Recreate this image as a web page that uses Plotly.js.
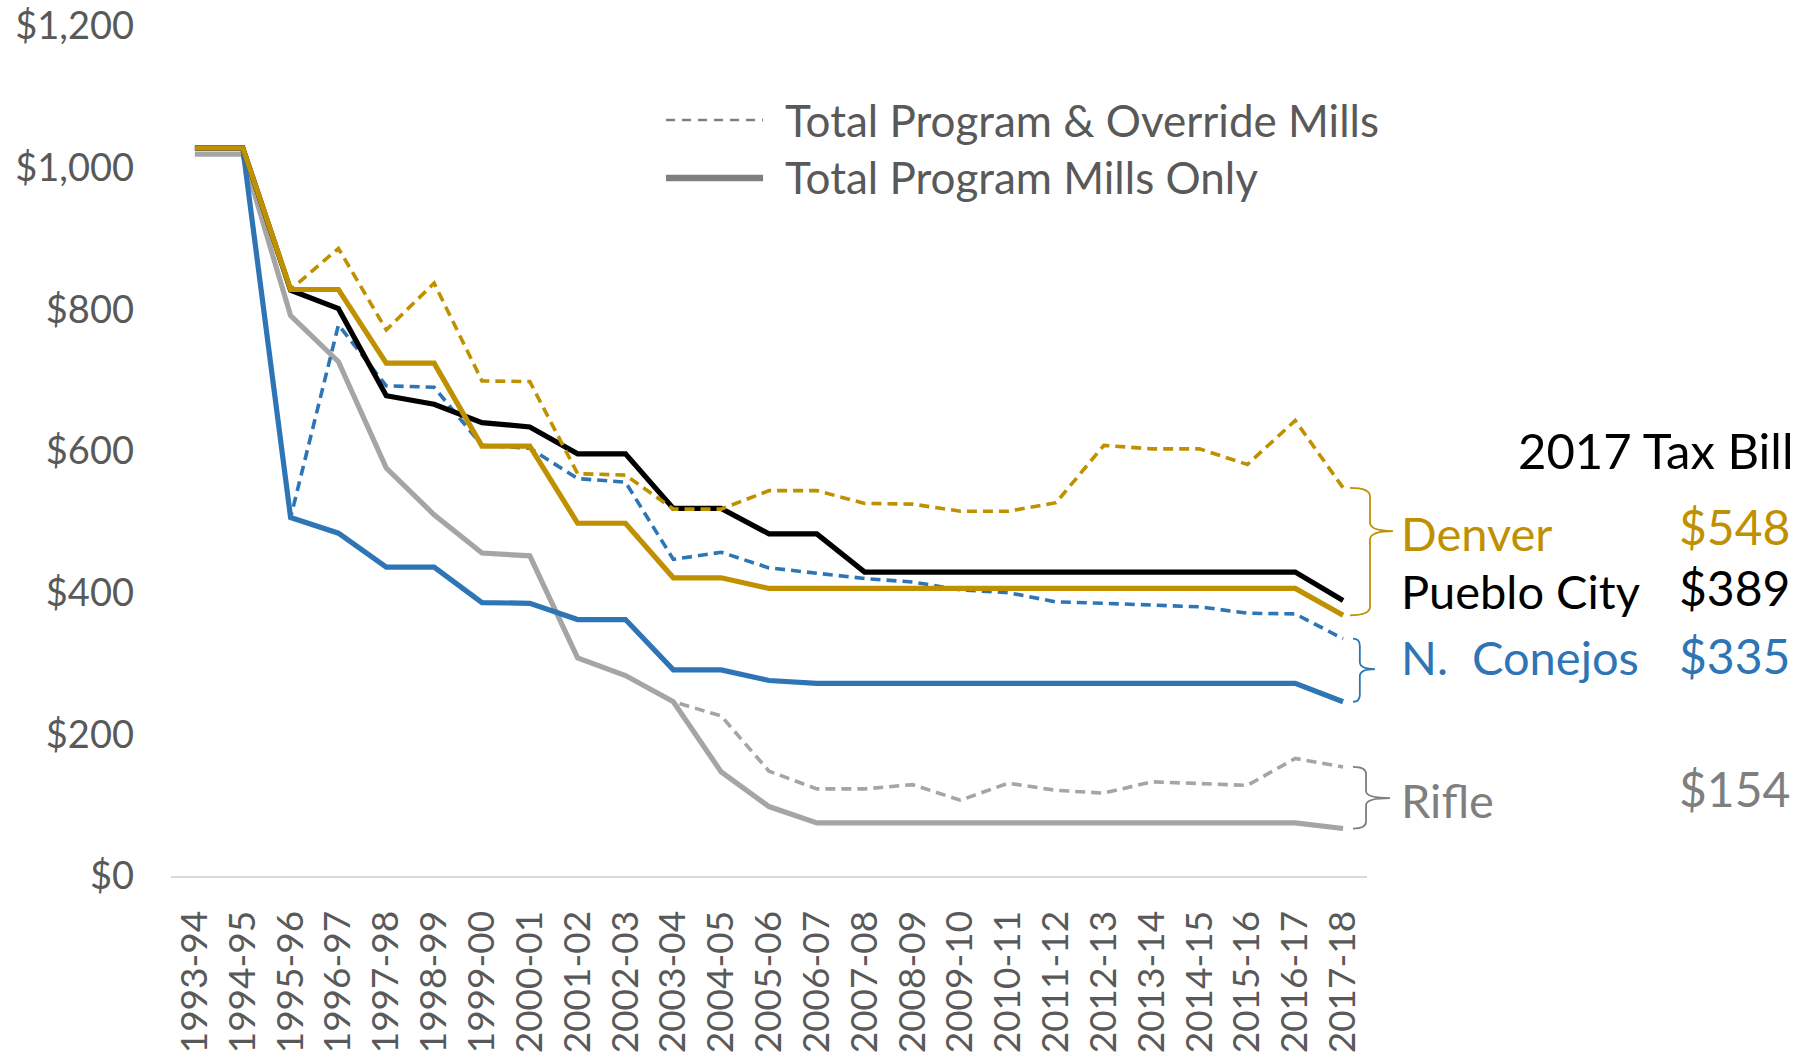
<!DOCTYPE html>
<html>
<head>
<meta charset="utf-8">
<script src="https://cdn.plot.ly/plotly-3.0.1.min.js"></script>
<style>html,body{margin:0;padding:0;background:#fff;}#chart{width:1817px;height:1057px;}</style>
</head>
<body>
<div id="chart"></div>
<script>
// ---- Data ----
const categories = ['1993-94','1994-95','1995-96','1996-97','1997-98','1998-99','1999-00','2000-01',
  '2001-02','2002-03','2003-04','2004-05','2005-06','2006-07','2007-08','2008-09','2009-10',
  '2010-11','2011-12','2012-13','2013-14','2014-15','2015-16','2016-17','2017-18'];

const denverProgram  = [1028,1028,828,828,724,724,607,607,498,498,421,421,406,406,406,406,406,406,406,406,406,406,406,406,368];
const denverTotal    = [1028,1028,828,886,771,837,699,698,568,566,518,518,544,544,526,525,515,515,527,608,603,603,581,643,548];
const puebloProgram  = [1028,1028,827,801,678,666,640,634,596,596,519,519,483,483,429,429,429,429,429,429,429,429,429,429,389];
const conejosProgram = [1028,1028,506,484,436,436,386,385,362,362,291,291,276,272,272,272,272,272,272,272,272,272,272,272,246];
const conejosTotal   = [1028,1028,506,778,692,690,608,604,561,556,447,457,435,428,420,415,404,400,387,385,382,380,371,370,335];
const rifleProgram   = [1019,1019,791,726,576,510,456,452,308,283,246,147,98,75,75,75,75,75,75,75,75,75,75,75,67];
const rifleTotal     = [1019,1019,791,726,576,510,456,452,308,283,246,226,148,123,123,129,107,131,121,117,133,131,128,166,154];

const districts = ['Denver','Pueblo City','N.\u00a0 Conejos','Rifle'];
const taxBill2017 = [denverTotal[24], puebloProgram[24], conejosTotal[24], rifleTotal[24]];
const legendLabels = ['Total Program & Override Mills','Total Program Mills Only'];
const yTicks = [0,200,400,600,800,1000,1200];
const yTickText = yTicks.map(v => '$' + v.toLocaleString('en-US'));

// ---- Styles ----
const GOLD = '#BF9000', BLUE = '#2E75B6', GRAY = '#A5A5A5', DARKGRAY = '#7F7F7F', BLACK = '#000000';
const FONT = 'Lato, "Open Sans", sans-serif';
const SOLID_W = 5.2, DASH_W = 3.6, DASH = '10px,6px';

function tr(y, color, dashed) {
  return {x: categories, y: y, type: 'scatter', mode: 'lines', hoverinfo: 'skip', showlegend: false,
    line: {color: color, width: dashed ? DASH_W : SOLID_W, dash: dashed ? DASH : 'solid'}};
}

const data = [
  tr(rifleTotal, GRAY, true),
  tr(rifleProgram, GRAY, false),
  tr(conejosProgram, BLUE, false),
  tr(conejosTotal, BLUE, true),
  tr(puebloProgram, BLACK, false),
  tr(denverProgram, GOLD, false),
  tr(denverTotal, GOLD, true)
];

// curly brace path: x in paper units, y in data units
function brace(xTip, xBar, xNib, yTop, yNib, yBot, r, color) {
  const p = 'M' + xTip + ',' + yTop +
    ' Q' + xBar + ',' + yTop + ' ' + xBar + ',' + (yTop - r) +
    ' L' + xBar + ',' + (yNib + r) +
    ' Q' + xBar + ',' + yNib + ' ' + xNib + ',' + yNib +
    ' Q' + xBar + ',' + yNib + ' ' + xBar + ',' + (yNib - r) +
    ' L' + xBar + ',' + (yBot + r) +
    ' Q' + xBar + ',' + yBot + ' ' + xTip + ',' + yBot;
  return {type: 'path', xref: 'paper', yref: 'y', path: p, line: {color: color, width: 1.8}};
}

const shapes = [
  brace(0.9858, 1.0025, 1.0217, denverTotal[24], 487, denverProgram[24], 12, GOLD),
  brace(0.9883, 0.9940, 1.0067, conejosTotal[24], 292, conejosProgram[24], 10, BLUE),
  brace(0.9883, 0.9992, 1.0192, rifleTotal[24], 110, rifleProgram[24], 10, DARKGRAY),
  // legend samples
  {type: 'line', xref: 'paper', yref: 'paper', x0: 0.4139, x1: 0.4950, y0: 0.8894, y1: 0.8894,
   line: {color: DARKGRAY, width: 2.4, dash: '9px,7px'}},
  {type: 'line', xref: 'paper', yref: 'paper', x0: 0.4139, x1: 0.4950, y0: 0.8212, y1: 0.8212,
   line: {color: DARKGRAY, width: 6.5}}
];

function ann(text, x, y, xanchor, color, size, yref) {
  return {text: text, x: x, y: y, xref: 'paper', yref: yref || 'y', xanchor: xanchor, yanchor: 'middle',
    showarrow: false, font: {family: FONT, size: size, color: color}};
}

const LBL = 47;
const annotations = [
  ann(legendLabels[0], 0.5117, 0.8894, 'left', '#595959', 44, 'paper'),
  ann(legendLabels[1], 0.5117, 0.8218, 'left', '#595959', 44, 'paper'),
  ann('2017 Tax Bill', 1.358, 601, 'right', BLACK, 49),
  ann(districts[0], 1.0268, 484, 'left', GOLD, LBL),
  ann('$' + taxBill2017[0], 1.355, 493, 'right', GOLD, 48),
  ann(districts[1], 1.0268, 402, 'left', BLACK, LBL),
  ann('$' + taxBill2017[1], 1.3557, 407, 'right', BLACK, 48),
  ann(districts[2], 1.0268, 309, 'left', BLUE, LBL),
  ann('$' + taxBill2017[2], 1.3557, 311, 'right', BLUE, 48),
  ann(districts[3], 1.0268, 107, 'left', DARKGRAY, LBL),
  ann('$' + taxBill2017[3], 1.3557, 123, 'right', DARKGRAY, 48)
];

const layout = {
  width: 1817, height: 1057,
  margin: {l: 171, r: 450, t: 26, b: 181, pad: 0},
  paper_bgcolor: '#ffffff', plot_bgcolor: '#ffffff',
  showlegend: false,
  font: {family: FONT, color: '#595959'},
  xaxis: {
    type: 'category', range: [-0.5, 24.5], fixedrange: true,
    showline: true, linecolor: '#D9D9D9', linewidth: 2,
    showgrid: false, zeroline: false, ticks: '', tickangle: -90,
    ticklabelstandoff: 18,
    tickfont: {family: FONT, size: 37, color: '#595959'}
  },
  yaxis: {
    range: [0, 1200], fixedrange: true, tickmode: 'array', tickvals: yTicks, ticktext: yTickText,
    showline: false, showgrid: false, zeroline: false, ticks: '',
    ticklabelstandoff: 36,
    tickfont: {family: FONT, size: 38, color: '#595959'}
  },
  shapes: shapes,
  annotations: annotations
};

Plotly.newPlot('chart', data, layout, {staticPlot: true, displayModeBar: false});
</script>
</body>
</html>
